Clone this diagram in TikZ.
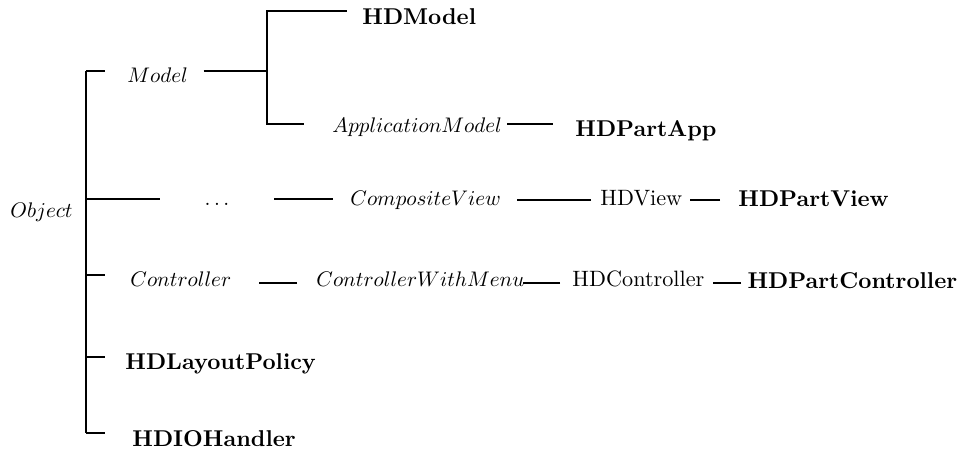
\documentclass[tikz,border=0pt]{standalone}
\usepackage{graphicx}
\usetikzlibrary{calc}

% class names: abstract ones in italic, final ones in bold
\newcommand{\iclass}[1]{\scalebox{0.95}{$#1$}}
\newcommand{\fclass}[1]{\scalebox{1.03}{\bfseries #1}}

\begin{document}
\begin{tikzpicture}[
    link/.style={line width=0.55pt},
    abstract/.style={anchor=base west, inner sep=0pt},
    plain/.style={anchor=base west, inner sep=0pt},
    final/.style={anchor=base west, inner sep=0pt},
]

\useasboundingbox (0,0) rectangle (15.237,7.136);

% =============================================================================
% Root and trunk
% =============================================================================
\node[abstract] (object) at (0.158,3.687) {\iclass{Object}};

\coordinate (fork-model)  at (1.361,6.013);
\coordinate (fork-view)   at (1.361,3.987);
\coordinate (fork-ctrl)   at (1.361,2.785);
\coordinate (fork-layout) at (1.361,1.487);
\coordinate (fork-io)     at (1.361,0.285);

\draw[link] (fork-model) -- (fork-io);

% Short stubs off the trunk
\foreach \f in {fork-model, fork-ctrl, fork-layout, fork-io} {
    \draw[link] (\f) -- ++(0.30,0);
}
\draw[link] (fork-view) -- ++(1.17,0);

% =============================================================================
% Model branch
% =============================================================================
\node[abstract] (model) at (2.009,5.823) {\iclass{Model}};
\node[final] (hdmodel) at (5.728,6.741) {\fclass{HDModel}};
\node[abstract] (appmodel) at (5.253,5.047) {\iclass{ApplicationModel}};
\node[final] (hdpartapp) at (9.098,4.984) {\fclass{HDPartApp}};

\coordinate (mj) at (4.225,6.013);
\draw[link] ([xshift=0.24cm]model.east |- mj) -- (mj);
\draw[link] ([shift={(-0.24,0.22)}]hdmodel.base west) -| (mj)
    |- ([shift={(-0.44,0.127)}]appmodel.base west);
\draw[link] ([shift={(-0.35,0.19)}]hdpartapp.base west) -- ++(-0.73,0);

% =============================================================================
% View branch
% =============================================================================
\node[abstract, anchor=base] (dots) at (3.434,3.892) {\iclass{\ldots}};
\node[abstract] (compview) at (5.538,3.877) {\iclass{CompositeView}};
\node[plain] (hdview) at (9.494,3.877) {HDView};
\node[final] (hdpartview) at (11.677,3.861) {\fclass{HDPartView}};

\draw[link] ([shift={(-0.27,0.11)}]compview.base west) -- ++(-0.934,0);
\draw[link] ([shift={(-0.142,0.095)}]hdview.base west) -- ++(-1.171,0);
\draw[link] ([shift={(-0.285,0.11)}]hdpartview.base west) -- ++(-0.475,0);

% =============================================================================
% Controller branch
% =============================================================================
\node[abstract] (controller) at (2.057,2.595) {\iclass{Controller}};
\node[abstract] (ctrlmenu) at (5.0,2.595) {\iclass{ControllerWithMenu}};
\node[plain] (hdctrl) at (9.051,2.595) {HDController};
\node[final] (hdpartctrl) at (11.820,2.579) {\fclass{HDPartController}};

\draw[link] ([shift={(-0.30,0.063)}]ctrlmenu.base west) -- ++(-0.60,0);
\draw[link] ([shift={(-0.19,0.063)}]hdctrl.base west) -- ++(-0.585,0);
\draw[link] ([shift={(-0.095,0.079)}]hdpartctrl.base west) -- ++(-0.443,0);

% =============================================================================
% Leaves off the trunk
% =============================================================================
\node[final] (hdlayout) at (1.978,1.297) {\fclass{HDLayoutPolicy}};
\node[final] (hdio) at (2.089,0.079) {\fclass{HDIOHandler}};

\end{tikzpicture}
\end{document}
